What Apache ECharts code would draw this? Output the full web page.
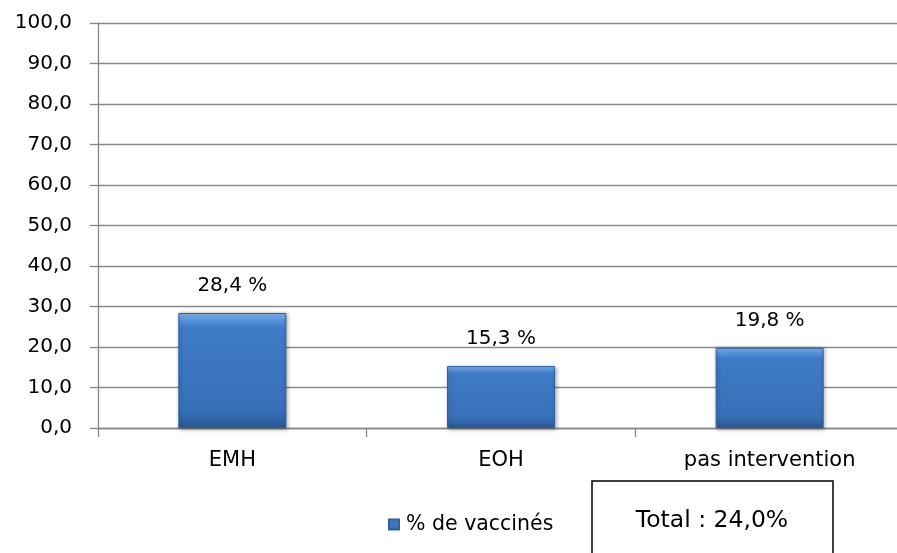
<!DOCTYPE html>
<html lang="fr">
  <head>
    <meta charset="UTF-8" />
    <title>% de vaccinés</title>
    <script src="https://cdn.jsdelivr.net/npm/echarts@6/dist/echarts.min.js"></script>
    <style>
      html, body { margin: 0; padding: 0; background: #fff; }
    </style>
  </head>
  <body>
    <div id="main" style="width: 897px; height: 553px"></div>
    <script type="text/javascript">
      // data
      const categories = ["EMH", "EOH", "pas intervention"];
      const vaccines = [28.4, 15.3, 19.8];
      const seriesName = "% de vaccinés";
      const totalText = "Total : 24,0%";
      const yMin = 0, yMax = 100, yStep = 10;

      const font = "DejaVu Sans";
      const fr = (v, d) => v.toFixed(d).replace(".", ",");

      const barColor = new echarts.graphic.LinearGradient(0, 0, 0, 1, [
        { offset: 0, color: "#86b8f0" },
        { offset: 0.07, color: "#5592da" },
        { offset: 0.13, color: "#3f7bc6" },
        { offset: 0.85, color: "#3870b8" },
        { offset: 1, color: "#295894" },
      ]);

      let options = {
        backgroundColor: "#fff",
        animation: false,
        grid: {
          left: 98, top: 23, width: 806, height: 405,
          containLabel: false, outerBoundsMode: "none",
        },
        xAxis: {
          type: "category",
          data: categories,
          axisLine: { lineStyle: { color: "#868686", width: 1.3 } },
          axisTick: { show: true, length: 9, lineStyle: { color: "#868686", width: 1.3 } },
          axisLabel: { color: "#000", fontFamily: font, fontSize: 21, margin: 22 },
        },
        yAxis: {
          type: "value",
          min: yMin, max: yMax, interval: yStep,
          axisLine: { show: true, lineStyle: { color: "#868686", width: 1.3 } },
          axisTick: { show: true, length: 8, lineStyle: { color: "#868686", width: 1.3 } },
          axisLabel: {
            color: "#000", fontFamily: font, fontSize: 20, margin: 26,
            formatter: (v) => fr(v, 1),
          },
          splitLine: { lineStyle: { color: "#8a8a8a", width: 1.3 } },
        },
        legend: {
          left: 383, top: 509,
          itemWidth: 10, itemHeight: 10,
          icon: "rect",
          textStyle: { color: "#000", fontFamily: font, fontSize: 20.5, padding: [0, 0, 0, 2] },
          data: [{ name: seriesName, itemStyle: { color: barColor } }],
        },
        series: [
          {
            name: seriesName,
            type: "bar",
            data: vaccines,
            barWidth: 108,
            itemStyle: {
              color: barColor,
              borderColor: "#2f609f",
              borderWidth: 1,
              shadowColor: "rgba(0,0,0,0.35)",
              shadowBlur: 4,
              shadowOffsetX: 1,
              shadowOffsetY: 1,
            },
            label: {
              show: true,
              position: "top",
              distance: 17,
              color: "#000",
              fontFamily: font,
              fontSize: 20,
              formatter: (p) => fr(p.value, 1) + " %",
            },
          },
        ],
        graphic: [
          {
            type: "rect",
            shape: { x: 592, y: 481, width: 241, height: 100 },
            style: { fill: "#fff", stroke: "#000", lineWidth: 1.5 },
            z: 10,
          },
          {
            type: "text",
            x: 712, y: 521,
            style: {
              text: totalText,
              fill: "#000",
              font: "23.5px 'DejaVu Sans'",
              align: "center",
              verticalAlign: "middle",
            },
            z: 11,
          },
        ],
      };

      let myChart = echarts.init(document.getElementById("main"));
      myChart.setOption(options);
    </script>
  </body>
</html>
